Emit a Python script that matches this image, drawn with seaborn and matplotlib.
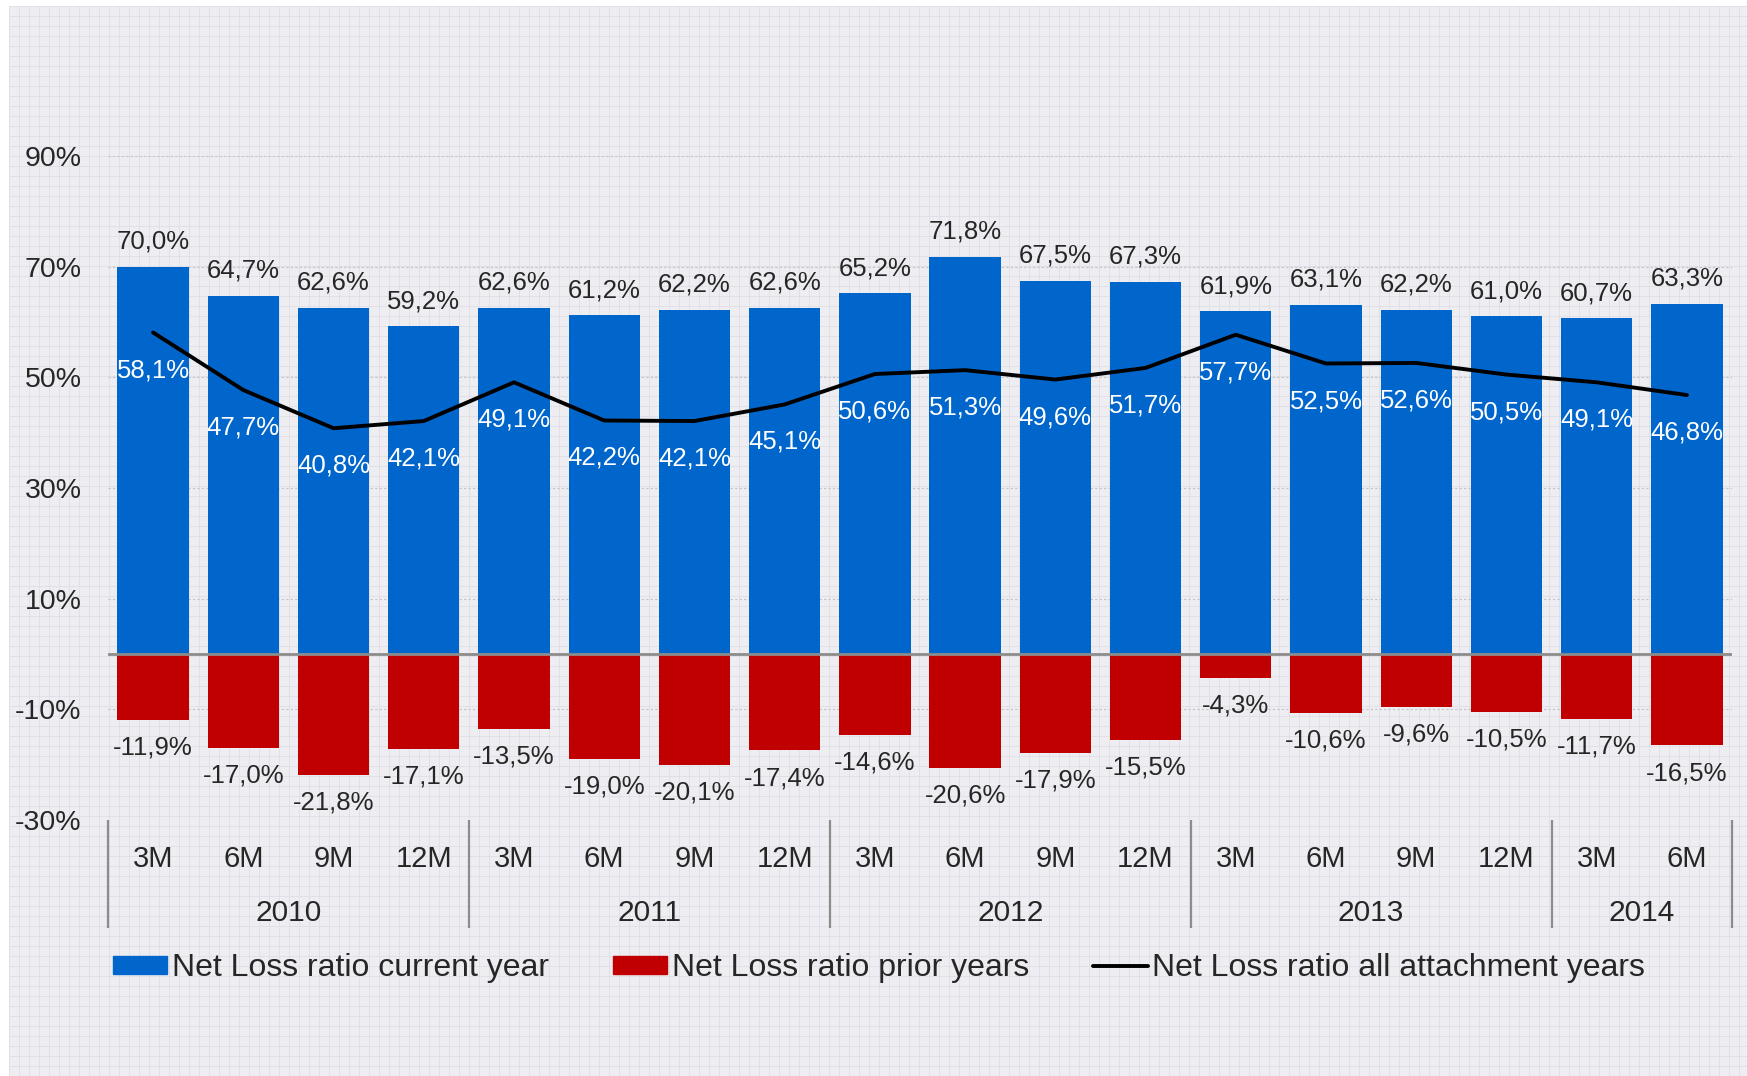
import numpy as np
import pandas as pd
import matplotlib
matplotlib.use("Agg")
import matplotlib.pyplot as plt
import seaborn as sns
from matplotlib.patches import Patch
from matplotlib.lines import Line2D
from matplotlib import transforms

# dati
months = ["3M", "6M", "9M", "12M"] * 4 + ["3M", "6M"]
years = ["2010", "2011", "2012", "2013", "2014"]
year_sizes = [4, 4, 4, 4, 2]
current_year = [70.0, 64.7, 62.6, 59.2, 62.6, 61.2, 62.2, 62.6, 65.2, 71.8,
                67.5, 67.3, 61.9, 63.1, 62.2, 61.0, 60.7, 63.3]
prior_years = [-11.9, -17.0, -21.8, -17.1, -13.5, -19.0, -20.1, -17.4, -14.6, -20.6,
               -17.9, -15.5, -4.3, -10.6, -9.6, -10.5, -11.7, -16.5]
all_years = [58.1, 47.7, 40.8, 42.1, 49.1, 42.2, 42.1, 45.1, 50.6, 51.3,
             49.6, 51.7, 57.7, 52.5, 52.6, 50.5, 49.1, 46.8]
yticks = [-30, -10, 10, 30, 50, 70, 90]

BLUE = "#0066CC"
RED = "#C00000"

df = pd.DataFrame({"pos": np.arange(len(months)), "cur": current_year,
                   "prior": prior_years, "all": all_years})

sns.set_theme(style="white")
plt.rcParams["font.family"] = ["Liberation Sans", "DejaVu Sans"]

W, H = 1747, 1076
fig = plt.figure(figsize=(W / 100, H / 100), dpi=100)
fig.patch.set_facecolor("white")

# sfondo a carta millimetrata
bg = fig.add_axes([9 / W, 0, 1 - 9 / W, 1 - 6 / H], zorder=-5)
bg.set_facecolor("#EEEEF2")
bg.set_xlim(0, W - 9)
bg.set_ylim(0, H - 6)
bg.vlines(np.arange(0, W, 10), 0, H, color="#E0E0E6", lw=0.7)
bg.hlines(np.arange(H - 6, 0, -10), 0, W, color="#E0E0E6", lw=0.7)
bg.set_xticks([])
bg.set_yticks([])
for s in bg.spines.values():
    s.set_visible(False)

ax = fig.add_axes([108 / W, (H - 820) / H, (1732 - 108) / W, (820 - 156) / H])
ax.set_facecolor("none")

sns.barplot(data=df, x="pos", y="cur", color=BLUE, width=0.79, saturation=1,
            linewidth=0, ax=ax, zorder=2)
sns.barplot(data=df, x="pos", y="prior", color=RED, width=0.79, saturation=1,
            linewidth=0, ax=ax, zorder=2)
sns.lineplot(data=df, x="pos", y="all", color="black", lw=2.8, ax=ax, zorder=4,
             solid_capstyle="round", solid_joinstyle="round")

ax.set_xlim(-0.5, len(months) - 0.5)
ax.set_ylim(-30, 90)
ax.set_yticks(yticks)
ax.set_yticklabels([f"{t}%" for t in yticks], fontsize=20.5)
ax.tick_params(axis="y", length=0, pad=19)
ax.yaxis.grid(True, linestyle=(0, (2, 2)), color="#C4C4C8", lw=0.8)
ax.set_axisbelow(True)
ax.axhline(0, color="#8C8C8C", lw=2, zorder=3)

ax.set_xticks(np.arange(len(months)))
ax.set_xticklabels(months, fontsize=21)
ax.tick_params(axis="x", length=0, pad=18)
ax.set_xlabel("")
ax.set_ylabel("")
for s in ax.spines.values():
    s.set_visible(False)

# etichette dei valori
fmt = lambda v: f"{v:.1f}%".replace(".", ",")
for i in range(len(months)):
    ax.annotate(fmt(current_year[i]), (i, current_year[i]), xytext=(0, 18),
                textcoords="offset points", ha="center", va="center", fontsize=18.5)
    ax.annotate(fmt(prior_years[i]), (i, prior_years[i]), xytext=(0, -20),
                textcoords="offset points", ha="center", va="center", fontsize=18.5)
    ax.annotate(fmt(all_years[i]), (i, all_years[i]), xytext=(0, -27),
                textcoords="offset points", ha="center", va="center", fontsize=18.5,
                color="white", zorder=5)

# asse delle categorie a due livelli
trans = transforms.blended_transform_factory(ax.transData, ax.transAxes)
ax_h = 820 - 156
edges = np.concatenate([[0], np.cumsum(year_sizes)]) - 0.5
ax.vlines(edges, 0, -(928 - 820) / ax_h, transform=trans, color="#8C8C8C", lw=1.6, clip_on=False)
for k, yr in enumerate(years):
    ax.text((edges[k] + edges[k + 1]) / 2, -(913 - 820) / ax_h, yr, transform=trans,
            ha="center", va="center", fontsize=21.5)

handles = [Patch(color=BLUE), Patch(color=RED), Line2D([], [], color="black", lw=2.8)]
labels = ["Net Loss ratio current year", "Net Loss ratio prior years",
          "Net Loss ratio all attachment years"]
fig.legend(handles, labels, loc="center left", bbox_to_anchor=(113 / W, 1 - 968 / H),
           ncol=3, frameon=False, fontsize=23, handlelength=1.7, handleheight=0.5,
           handletextpad=0.15, columnspacing=2.0, borderpad=0, borderaxespad=0)

fig.savefig("out.png", dpi=100)
